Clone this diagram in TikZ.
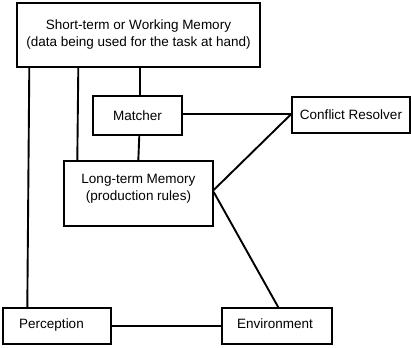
\documentclass[tikz,border=0pt]{standalone}
\usepackage{fontspec}
\setmainfont{Liberation Sans}
\begin{document}
\begin{tikzpicture}[x=1pt,y=-1pt,
  box/.style={draw,line width=1.4pt,rectangle,inner sep=0pt,align=center,
    font=\fontsize{13.5}{17}\selectfont},
  lbl/.style={align=center,font=\fontsize{13.5}{17}\selectfont},
  link/.style={line width=1.9pt}]
\useasboundingbox (0,0) rectangle (411,347);
\node[box,minimum width=243pt,minimum height=64pt] (stm) at (138.5,35)
  {Short-term or Working Memory\\(data being used for the task at hand)};
\node[box,minimum width=89pt,minimum height=39pt] (match) at (137.5,115.5) {Matcher};
\node[box,minimum width=118pt,minimum height=36pt] (cr) at (351,115) {Conflict Resolver};
\node[box,minimum width=149pt,minimum height=65pt] (ltm) at (138.5,193.5) {};
\node[lbl] (ltmtext) at (138.5,189) {Long-term Memory\\(production rules)};
\node[box,minimum width=108pt,minimum height=36pt] (perc) at (57,326) {};
\node[lbl] (perctext) at (51.5,325) {Perception};
\node[box,minimum width=110pt,minimum height=36pt] (env) at (277,326) {};
\node[lbl] (envtext) at (275,324) {Environment};
\draw[link] ([xshift=13pt]stm.south west) -- ([xshift=25pt]perc.north west);
\draw[link] ([xshift=62pt]stm.south west) -- ([xshift=14pt]ltm.north west);
\draw[link] ([xshift=124pt]stm.south west) -- ([xshift=48pt]match.north west);
\draw[link] ([xshift=47pt]match.south west) -- ([xshift=75pt]ltm.north west);
\draw[link] ([yshift=1.5pt]match.east) -- ([yshift=1pt]cr.west);
\draw[link] ([yshift=1pt]cr.west) -- ([yshift=3.5pt]ltm.east);
\draw[link] ([yshift=1.5pt]ltm.east) -- ([xshift=57pt]env.north west);
\draw[link] (perc.east) -- (env.west);
\end{tikzpicture}
\end{document}
